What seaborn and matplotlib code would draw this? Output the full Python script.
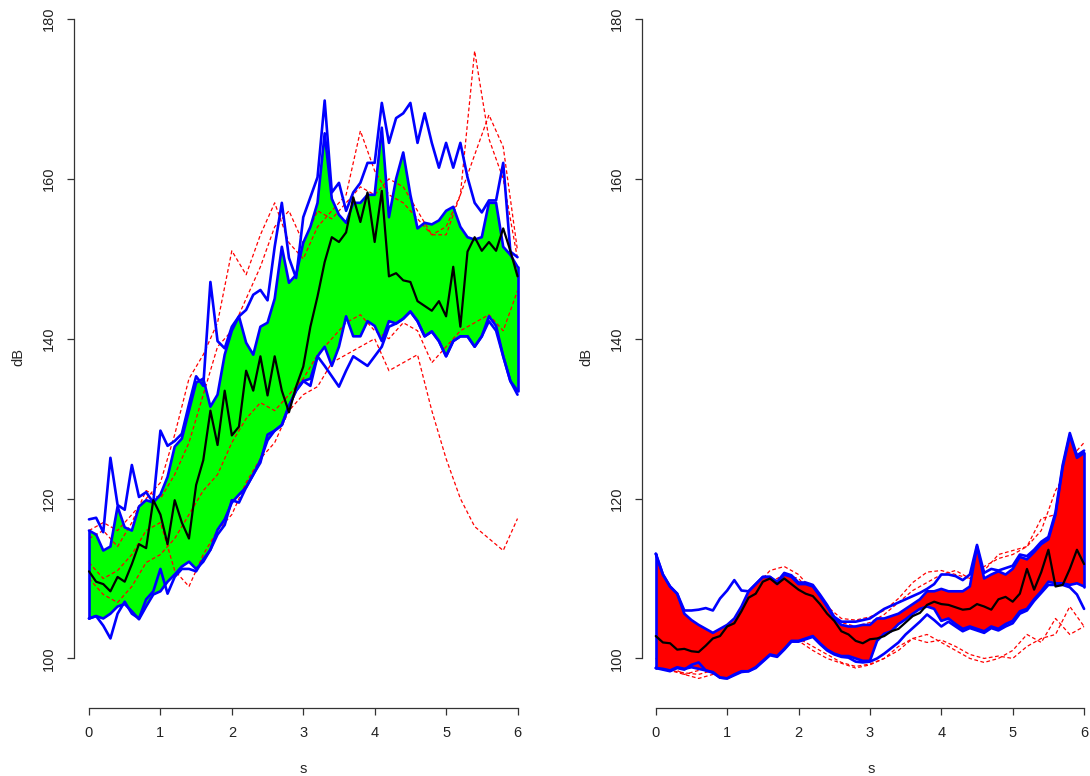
import matplotlib
matplotlib.use("Agg")
import matplotlib.pyplot as plt
import numpy as np
import seaborn as sns

# time grids (s)
t = np.round(np.arange(61) * 0.1, 1)
t_out = np.round(np.arange(31) * 0.2, 1)

# ---- left panel: central region, median, whiskers ----
left_upper = [116, 115.5, 113.5, 114, 119, 116.4, 116, 119, 119.8, 119.5,
              120.5, 122.7, 126.5, 127.5, 131, 134.5, 135, 131.5, 133, 138,
              141, 142.8, 139.5, 138, 141.5, 142, 145, 151.5, 147, 148,
              152, 154, 157, 165.7, 157.5, 155.5, 154.5, 157, 157, 158,
              158, 166.4, 155.2, 160, 163.3, 158, 153.8, 154.5, 154.3, 154.8,
              156, 156.5, 154, 152.7, 152.4, 152.7, 157, 157, 151.5, 150.5, 149]
left_lower = [105, 105.3, 105, 105.6, 106.5, 106.8, 105.9, 104.9, 106.5, 108,
              108.4, 109.6, 110.5, 111.5, 112.1, 111.2, 112.1, 113.6, 116.1, 117.4,
              119.5, 120.5, 121.4, 123, 124.8, 127.3, 128.5, 129.2, 131.6, 133.5,
              134.7, 135, 137.8, 139, 136.6, 139, 142.8, 140.3, 140.3, 142.2,
              141.6, 139.7, 142.2, 141.9, 142.5, 143.4, 142.2, 140.3, 140.9, 139.7,
              137.8, 139.7, 140.3, 140.3, 139, 140.3, 142.8, 141.6, 137.8, 134.7, 133.5]
left_median = [110.9, 109.6, 109.3, 108.4, 110.2, 109.6, 111.8, 114.3, 113.8, 119.8,
               118, 114.3, 119.8, 117, 115, 121.7, 124.8, 131, 126.7, 133.5,
               127.9, 129, 136, 133.5, 137.8, 132.9, 137.8, 133.5, 130.8, 134,
               136.5, 141.5, 145.3, 149.6, 152.7, 152.1, 153.3, 157.7, 154.6, 158.3,
               152.1, 158.5, 147.8, 148.2, 147.3, 147.1, 144.7, 144.1, 143.5, 144.7,
               142.8, 149, 141.5, 150.9, 152.7, 151, 152.1, 151, 153.8, 151, 147.8]
left_whisk_hi = [117.4, 117.6, 115.8, 125.1, 119.2, 118.6, 124.2, 120.2, 120.8, 119.5,
                 128.5, 126.6, 127.2, 128.1, 131.8, 135.3, 134.1, 147.1, 139.7, 138.8,
                 141.5, 142.8, 143.6, 145.5, 146.1, 144.8, 151.5, 157, 150.1, 147.6,
                 155.2, 157.7, 160.2, 169.8, 158.3, 159.5, 156, 158.3, 159.5, 162,
                 162, 169.5, 164.5, 167.6, 168.2, 169.5, 164.5, 168.2, 164.5, 161.4,
                 164.5, 161.4, 164.5, 160.2, 157, 155.8, 157.3, 157.3, 162, 150.9, 150.2]
left_whisk_lo = [105, 105.3, 104.1, 102.5, 105.6, 107.1, 105.6, 105, 107.4, 108.4,
                 111.2, 108.1, 110.2, 111.2, 111.2, 110.9, 112.4, 113.6, 115.5, 116.7,
                 119.8, 119.5, 121.4, 123, 124.5, 128, 128.5, 129.2, 131.6, 133.5,
                 134.7, 134.1, 137.8, 136.6, 135.3, 134, 136, 137.8, 137.2, 136.6,
                 137.8, 139, 141.5, 141.9, 142.5, 143.4, 142.2, 140.3, 140.9, 139.7,
                 137.8, 139.7, 140.3, 140.3, 139, 140.3, 142.2, 141, 137.8, 134.7, 133]

# left panel outlying curves
left_out_1 = [116, 117, 116, 118, 120, 122, 128, 135, 138, 142, 151, 148, 153, 157, 152, 150,
              154, 156, 158, 166, 161, 158, 157, 155, 153, 154, 158, 176, 165, 160, 150]
left_out_2 = [115, 116, 114, 117, 121, 120, 123, 127, 133, 139, 141, 145, 149, 154, 156, 152,
              156, 155, 157, 159, 158, 160, 159, 156, 153, 153, 158, 163, 168, 164, 151]
left_out_3 = [112, 110, 111, 113, 116, 117, 111, 109, 113, 116, 118, 122, 125, 127, 131, 133,
              134, 137, 138, 139, 140, 136, 137, 138, 131, 125, 120, 116.5, 115, 113.5, 117.5]
left_out_4 = [110, 108, 107, 109, 112, 113, 115, 118, 121, 123, 127, 130, 132, 131, 133, 135,
              138, 140, 142, 143, 141, 140, 142, 141, 137, 139, 141, 142, 143, 141, 146]

# ---- right panel ----
right_upper = [113.1, 110.5, 109, 108.1, 105.6, 104.8, 104.2, 103.7, 103.2, 103.7,
               104.2, 105, 106.5, 108.4, 109.3, 110.2, 110.2, 109.3, 110.5, 110.2,
               109.3, 109.3, 109, 107.8, 106.5, 105, 104.2, 104, 104, 104.2,
               104.2, 105, 105, 105.3, 105.6, 106.2, 106.8, 107.4, 108.4, 108.4,
               108.7, 108.4, 108.4, 108.4, 109, 114, 110, 110.5, 110.9, 110.5,
               111.2, 112.7, 112.4, 113.3, 114.3, 114.9, 118, 123.9, 127.9, 125.1, 125.7]
right_lower = [98.8, 98.7, 98.5, 98.9, 98.7, 98.9, 98.7, 98.5, 98.3, 97.6,
               97.5, 98, 98.4, 98.4, 98.9, 99.7, 100.5, 100.3, 101.2, 102.2,
               102.2, 102.5, 102.8, 101.9, 101.1, 100.6, 100.3, 100.3, 100, 99.7,
               99.7, 102.2, 103.1, 103.4, 104.3, 104.9, 105.6, 106.2, 106.5, 106.2,
               104.7, 105, 104.3, 103.7, 104, 103.7, 103.4, 104, 103.7, 104.3,
               104.7, 105.9, 106.2, 107.4, 108.4, 109.6, 109.4, 109.4, 109.2, 109.4, 109]
right_median = [102.8, 102, 101.9, 101.1, 101.2, 100.9, 100.8, 101.6, 102.5, 102.8,
                104, 104.4, 105.9, 107.6, 108.1, 109.6, 110, 109.3, 110, 109.3,
                108.6, 108.1, 107.8, 106.8, 105.6, 104.7, 103.4, 103, 102.2, 101.9,
                102.4, 102.5, 102.8, 103.4, 103.7, 104.5, 105.3, 105.7, 106.7, 107.1,
                106.8, 106.7, 106.4, 106.1, 106.2, 106.8, 106.5, 106.1, 107.4, 107.7,
                107.1, 108.1, 111.2, 108.6, 110.8, 113.6, 109, 109.2, 111.2, 113.6, 111.8]
right_whisk_hi = [113.1, 110.5, 109, 108.1, 106, 106, 106.1, 106.3, 106, 107.5,
                  108.5, 109.8, 108.5, 108.4, 109.3, 110.2, 110.2, 109.6, 110.7, 110.4,
                  109.5, 109.5, 109.2, 108, 106.7, 105.2, 104.6, 104.6, 104.6, 104.8,
                  105, 105.6, 106.2, 106.6, 107, 107.4, 107.8, 108.2, 108.7, 109.3,
                  110.5, 110.5, 110.3, 109.8, 110.5, 114.2, 110.7, 111.2, 111, 111.3,
                  111.6, 113, 112.8, 113.6, 114.6, 115.2, 118.3, 124.2, 128.2, 125.4, 126]
right_whisk_lo = [98.8, 98.6, 98.4, 98.8, 98.6, 99.2, 99.5, 98.5, 98.2, 97.6,
                  97.5, 97.9, 98.3, 98.4, 98.8, 99.6, 100.4, 100.2, 101.1, 102.1,
                  102.1, 102.4, 102.7, 101.8, 101, 100.5, 100.2, 100.1, 99.6, 99.5,
                  99.6, 100, 100.6, 101.3, 102, 103, 103.8, 104.6, 105.5, 104.8,
                  104, 104.6, 104, 103.4, 103.8, 103.5, 103.2, 103.8, 103.5, 104,
                  104.4, 105.6, 106, 107.2, 108.2, 109.2, 109.2, 109.2, 108.9, 108, 106.2]

right_out_1 = [100, 99, 98, 98.5, 99.5, 103, 106, 109, 111, 111.5, 110.5, 108.5, 106.5, 105, 104.8,
               105.2, 106, 107.5, 109.5, 110.8, 111, 110.5, 110, 111, 113, 113.5, 114, 117.5, 118, 125, 127]
right_out_2 = [100, 99.5, 99, 99, 100, 102, 104, 107, 109.5, 110.5, 110, 108, 106, 104.5, 104,
               104.5, 105.5, 107, 108.5, 109.5, 110.5, 111, 110, 111.5, 112.5, 113, 114, 116, 121, 124, 126]
right_out_3 = [99, 98.5, 98, 97.5, 98, 98.5, 99.5, 100.5, 101.5, 102, 102.5, 101.5, 100.5, 99.5, 99,
               99.3, 100, 101, 102.5, 102, 102.3, 101.5, 100.5, 100, 100.3, 100, 101.5, 102.5, 103, 106.5, 104]
right_out_4 = [99, 98.5, 98.2, 98, 98.5, 99, 100, 101.5, 102, 102.5, 102.2, 101, 100, 99.4, 98.8,
               99.2, 100, 101.5, 102.5, 103, 102, 101, 100, 99.5, 100, 101, 103, 102, 105, 103, 104]

sns.set_style("white")
plt.rcParams['font.family'] = ['Liberation Sans', 'DejaVu Sans']

fig = plt.figure(figsize=(10.9, 7.76), dpi=100)
ax1 = fig.add_axes([74 / 1090, 68 / 776, 458.5 / 1090, 703 / 776])
ax2 = fig.add_axes([642 / 1090, 68 / 776, 458.5 / 1090, 703 / 776])


def draw_panel(ax, fill, upper, lower, median, whi, wlo, outs, xlim):
    ax.fill_between(t, lower, upper, color=fill, lw=0, zorder=1)
    for o in outs:
        sns.lineplot(x=t_out, y=o, ax=ax, color="red", lw=0.9,
                     linestyle=(0, (3, 2)), zorder=2)
    for s in (upper, lower, whi, wlo):
        sns.lineplot(x=t, y=s, ax=ax, color="blue", lw=1.9, zorder=3)
    # vertical closing edges of the central region
    ax.plot([t[0], t[0]], [lower[0], upper[0]], color="blue", lw=1.9, zorder=3)
    ax.plot([t[-1], t[-1]], [lower[-1], upper[-1]], color="blue", lw=1.9, zorder=3)
    sns.lineplot(x=t, y=median, ax=ax, color="black", lw=1.6, zorder=4)

    ax.set_xlim(*xlim)
    ax.set_ylim(93.8, 181.75)
    ax.set_xticks([0, 1, 2, 3, 4, 5, 6])
    ax.set_yticks([100, 120, 140, 160, 180])
    ax.set_yticklabels(["100", "120", "140", "160", "180"], rotation=90, va="center")
    for side in ("top", "right"):
        ax.spines[side].set_visible(False)
    ax.spines["left"].set_bounds(100, 180)
    ax.spines["bottom"].set_bounds(0, 6)
    for side in ("left", "bottom"):
        ax.spines[side].set_color("#333333")
        ax.spines[side].set_linewidth(0.9)
    ax.tick_params(axis="both", direction="out", length=5, width=0.9,
                   color="#333333", labelsize=10.5, labelcolor="#222222",
                   bottom=True, left=True)
    ax.tick_params(axis="y", pad=8)
    ax.tick_params(axis="x", pad=8)
    ax.set_xlabel("s", fontsize=10.5, labelpad=16)
    ax.set_ylabel("dB", fontsize=10.5, labelpad=12)
    ax.grid(False)


draw_panel(ax1, "#00FF00", left_upper, left_lower, left_median,
           left_whisk_hi, left_whisk_lo,
           [left_out_1, left_out_2, left_out_3, left_out_4], (-0.21, 6.21))
draw_panel(ax2, "#FF0000", right_upper, right_lower, right_median,
           right_whisk_hi, right_whisk_lo,
           [right_out_1, right_out_2, right_out_3, right_out_4], (-0.193, 6.23))

fig.savefig("out.png", dpi=100)
